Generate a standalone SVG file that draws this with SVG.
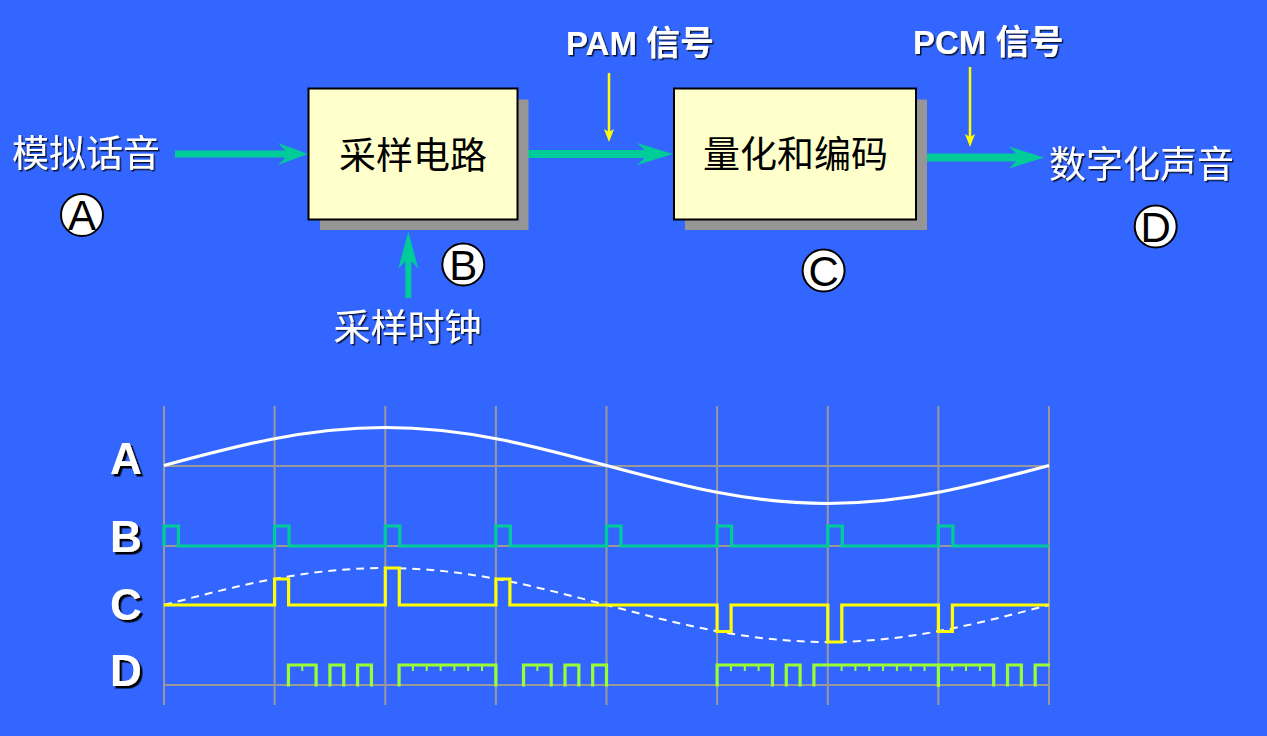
<svg xmlns="http://www.w3.org/2000/svg" width="1267" height="736" viewBox="0 0 1267 736">
<defs>
<style>
.cjk{font-family:"Noto Sans CJK SC","Noto Sans",sans-serif;font-size:37px;text-anchor:middle}
.wt{fill:#fff;filter:url(#sh1)}
.bt{fill:#000}
.lab{font-family:"Liberation Sans Narrow","Arial Narrow","Liberation Sans",sans-serif;font-stretch:condensed;font-weight:bold;font-size:33px;fill:#fff}
.labc{font-family:"Noto Sans CJK SC",sans-serif;font-weight:bold;font-size:34px;fill:#fff}
.big{font-family:"Liberation Sans",Arial,sans-serif;font-weight:bold;font-size:44px;fill:#fff;filter:url(#sh2)}
.circ{fill:#fff;stroke:#000;stroke-width:2}
.cl{font-family:"Liberation Sans",Arial,sans-serif;font-size:42px;fill:#000;text-anchor:middle}
.box{fill:#FFFFCC;stroke:#000;stroke-width:2}
.shadow{fill:#969696}
.teal{fill:#00CC99}
.tealline{stroke:#00CC99;fill:none}
.yl{stroke:#FFFF00;stroke-width:2.5;fill:none}
.yh{fill:#FFFF00}
.grid{stroke:#999;stroke-width:2;fill:none}
.w{fill:none;stroke-linejoin:miter;stroke-linecap:butt}
</style>
<filter id="sh1" x="-10%" y="-10%" width="130%" height="130%">
<feDropShadow dx="1.5" dy="1.5" stdDeviation="0.3" flood-color="#000" flood-opacity="0.8"/>
</filter>
<filter id="sh2" x="-10%" y="-10%" width="130%" height="130%">
<feDropShadow dx="2.5" dy="2.5" stdDeviation="0" flood-color="#000" flood-opacity="1"/>
</filter>
</defs>
<rect class="bg" x="0" y="0" width="1267" height="736" fill="#3366FF"/>

<g id="connectors">
<g id="arrow-A-to-sampler">
<line class="tealline" x1="175" y1="154" x2="292" y2="154" stroke-width="7"/>
<polygon class="teal" points="308,154 278,143 289,154 278,165"/>
</g>
<g id="arrow-sampler-to-quantizer">
<line class="tealline" x1="528" y1="154" x2="652" y2="154" stroke-width="8"/>
<polygon class="teal" points="673,154 637,143 649,154 637,165"/>
</g>
<g id="arrow-quantizer-to-D">
<line class="tealline" x1="927" y1="157.5" x2="1022" y2="157.5" stroke-width="8"/>
<polygon class="teal" points="1044,157.5 1009,146.5 1020,157.5 1009,168.5"/>
</g>
<g id="arrow-clock-to-sampler">
<line class="tealline" x1="408.3" y1="298" x2="408.3" y2="256" stroke-width="6"/>
<polygon class="teal" points="408.3,231.5 398.3,268.5 408.3,258 418.3,268.5"/>
</g>
<g id="arrow-PAM">
<line class="yl" x1="609" y1="73" x2="609" y2="133"/>
<polygon class="yh" points="609,142 604,129 609,132 614,129"/>
</g>
<g id="arrow-PCM">
<line class="yl" x1="970" y1="67" x2="970" y2="138"/>
<polygon class="yh" points="970,147 965,134 970,137 975,134"/>
</g>
</g>

<g id="node-analog">
<text class="cjk wt" x="86" y="166.5">模拟话音</text>
</g>
<g id="node-circle-A">
<circle class="circ" cx="82" cy="215" r="21"/>
<text class="cl" x="82" y="230">A</text>
</g>
<g id="node-sampler">
<rect class="shadow" x="320" y="99.5" width="208.5" height="130.5"/>
<rect class="box" x="308.5" y="88.5" width="209" height="131"/>
<text class="cjk bt" x="413" y="169">采样电路</text>
</g>
<g id="node-circle-B">
<circle class="circ" cx="463.3" cy="264.5" r="21"/>
<text class="cl" x="463.3" y="279.5">B</text>
</g>
<g id="node-clock">
<text class="cjk wt" x="407.5" y="340.5">采样时钟</text>
</g>
<g id="node-PAM" filter="url(#sh1)">
<text x="566" y="55"><tspan class="lab">PAM </tspan><tspan class="labc">信号</tspan></text>
</g>
<g id="node-quantizer">
<rect class="shadow" x="685" y="99.5" width="242" height="130.5"/>
<rect class="box" x="674" y="88.5" width="242" height="131"/>
<text class="cjk bt" x="795.5" y="167.5">量化和编码</text>
</g>
<g id="node-circle-C">
<circle class="circ" cx="823.6" cy="270.5" r="21"/>
<text class="cl" x="823.6" y="285.5">C</text>
</g>
<g id="node-PCM" filter="url(#sh1)">
<text x="913" y="54"><tspan class="lab">PCM </tspan><tspan class="labc">信号</tspan></text>
</g>
<g id="node-digital">
<text class="cjk wt" x="1141.5" y="178">数字化声音</text>
</g>
<g id="node-circle-D">
<circle class="circ" cx="1155.7" cy="226.5" r="21"/>
<text class="cl" x="1155.7" y="241.5">D</text>
</g>

<g id="waveforms">
<g id="grid">
<path class="grid" d="M164,406V705M274.6,406V705M385.3,406V705M495.9,406V705M606.5,406V705M717.1,406V705M827.8,406V705M938.4,406V705M1049,406V705"/>
<path class="grid" d="M164,466H1049M164,546H1049M164,685H1049"/>
</g>
<g id="labels">
<text class="big" x="110" y="474">A</text>
<text class="big" x="110" y="551.5">B</text>
<text class="big" x="110" y="619.5">C</text>
<text class="big" x="110" y="686">D</text>
</g>
<path id="wave-A" class="w" stroke="#fff" stroke-width="3.2" d="M164,465.5 C236.16,446.03 305.18,427.5 385.25,427.5 C465.32,427.5 534.34,446.03 606.5,465.5 C678.66,484.97 747.68,503.5 827.75,503.5 C907.82,503.5 976.84,484.97 1049,465.5"/>
<path id="wave-B" class="w" stroke="#00CC99" stroke-width="3.2" d="M164,546V526H178.5V546H274.6V526H289.1V546H385.3V526H399.8V546H495.9V526H510.4V546H606.5V526H621V546H717.1V526H731.6V546H827.8V526H842.3V546H938.4V526H952.9V546H1049"/>
<path id="wave-C-dash" class="w" stroke="#fff" stroke-width="2" stroke-dasharray="8,6" d="M164,605 C236.16,586.05 305.18,568 385.25,568 C465.32,568 534.34,586.05 606.5,605 C678.66,623.95 747.68,642 827.75,642 C907.82,642 976.84,623.95 1049,605"/>
<path id="wave-C" class="w" stroke="#FFFF00" stroke-width="3.2" d="M164,605H274.6V579H288.6V605H385.3V568H399.3V605H495.9V579H509.9V605H717.1V631.5H731.1V605H827.8V642H841.8V605H938.4V631.5H952.4V605H1049"/>
<path id="wave-D" class="w" stroke="#99FF33" stroke-width="3.2" d="M288.45,686.5V665H316.1V686.5M329.94,686.5V665H343.77V686.5M357.6,686.5V665H371.42V686.5M399.08,686.5V665H495.88V686.5M523.53,686.5V665H551.19V686.5M565,686.5V665H578.84V686.5M592.67,686.5V665H606.5V686.5M717.13,686.5V665H772.44V686.5M786.27,686.5V665H800.09V686.5M813.92,686.5V665H993.69V686.5M1007.52,686.5V665H1021.34V686.5M1035.17,686.5V665H1050M938.38,665V687"/>
<path id="wave-D-ticks" class="w" stroke="#99FF33" stroke-width="2" d="M302.28,665V671M412.9,665V671M426.7,665V671M440.6,665V671M454.4,665V671M468.2,665V671M482,665V671M537.36,665V671M730.95,665V671M744.78,665V671M758.6,665V671M841.58,665V671M855.41,665V671M869.23,665V671M883.06,665V671M896.89,665V671M910.72,665V671M924.55,665V671M952.2,665V671M966,665V671M979.9,665V671"/>
</g>
</svg>
